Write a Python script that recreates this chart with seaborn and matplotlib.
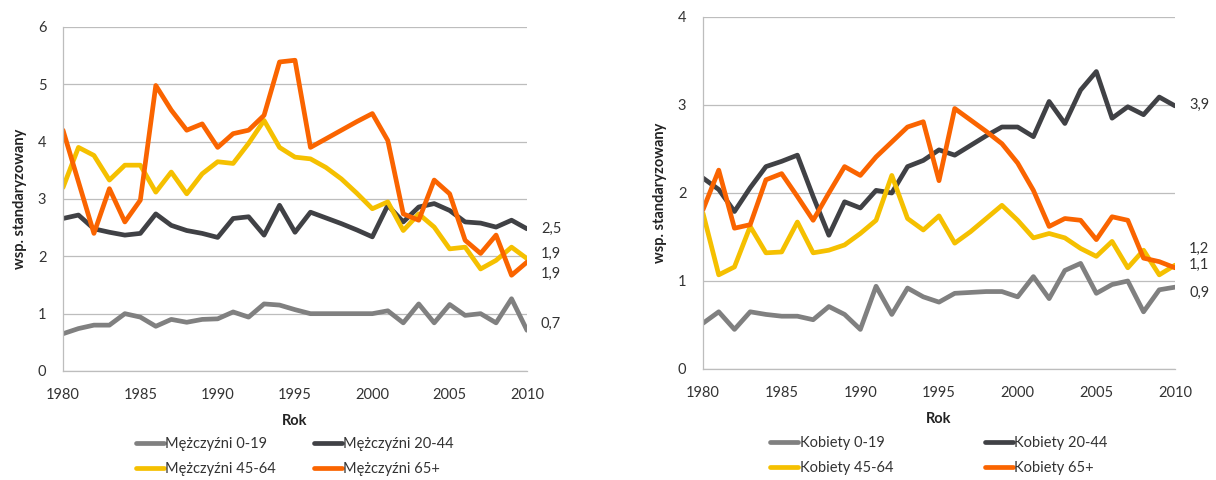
import numpy as np
import pandas as pd
import matplotlib
matplotlib.use("Agg")
import matplotlib.pyplot as plt
import seaborn as sns

years = list(range(1980, 2011))

men_0_19 = [0.65, 0.74, 0.80, 0.80, 1.00, 0.94, 0.78, 0.90, 0.85, 0.90, 0.91, 1.03, 0.94, 1.17, 1.15, 1.07,
            1.00, 1.00, 1.00, 1.00, 1.00, 1.05, 0.84, 1.17, 0.84, 1.16, 0.97, 1.00, 0.84, 1.26, 0.71]
men_20_44 = [2.66, 2.72, 2.48, 2.42, 2.37, 2.40, 2.74, 2.54, 2.45, 2.40, 2.33, 2.66, 2.69, 2.37, 2.89, 2.42,
             2.77, 2.67, 2.57, 2.46, 2.34, 2.89, 2.60, 2.86, 2.92, 2.80, 2.60, 2.58, 2.51, 2.63, 2.48]
men_45_64 = [3.20, 3.90, 3.76, 3.33, 3.59, 3.59, 3.12, 3.47, 3.09, 3.44, 3.65, 3.62, 3.97, 4.37, 3.90, 3.73,
             3.70, 3.55, 3.35, 3.10, 2.83, 2.95, 2.45, 2.74, 2.51, 2.13, 2.16, 1.78, 1.93, 2.16, 1.96]
men_65 = [4.20, 3.30, 2.40, 3.18, 2.60, 2.98, 4.98, 4.55, 4.20, 4.31, 3.90, 4.14, 4.20, 4.46, 5.39, 5.42,
          3.90, 4.05, 4.20, 4.35, 4.49, 4.02, 2.74, 2.63, 3.33, 3.09, 2.28, 2.05, 2.37, 1.67, 1.90]

women_0_19 = [0.52, 0.65, 0.45, 0.65, 0.62, 0.60, 0.60, 0.56, 0.71, 0.62, 0.45, 0.94, 0.62, 0.92, 0.82, 0.76,
              0.86, 0.87, 0.88, 0.88, 0.82, 1.05, 0.80, 1.12, 1.20, 0.86, 0.96, 1.00, 0.65, 0.90, 0.93]
women_20_44 = [2.17, 2.04, 1.79, 2.06, 2.30, 2.36, 2.43, 1.96, 1.52, 1.90, 1.83, 2.03, 2.00, 2.30, 2.37, 2.49,
               2.43, 2.54, 2.65, 2.75, 2.75, 2.64, 3.04, 2.79, 3.17, 3.38, 2.85, 2.98, 2.89, 3.09, 2.99]
women_45_64 = [1.77, 1.07, 1.16, 1.62, 1.32, 1.33, 1.67, 1.32, 1.35, 1.41, 1.54, 1.69, 2.20, 1.71, 1.58, 1.74,
               1.43, 1.56, 1.71, 1.86, 1.69, 1.49, 1.54, 1.49, 1.37, 1.28, 1.45, 1.15, 1.35, 1.07, 1.18]
women_65 = [1.81, 2.26, 1.60, 1.64, 2.15, 2.22, 1.96, 1.69, 2.00, 2.30, 2.20, 2.41, 2.58, 2.75, 2.81, 2.14,
            2.96, 2.83, 2.70, 2.56, 2.34, 2.03, 1.62, 1.71, 1.69, 1.47, 1.73, 1.69, 1.26, 1.22, 1.15]

men_labels = ["Mężczyźni 0-19", "Mężczyźni 20-44", "Mężczyźni 45-64", "Mężczyźni 65+"]
women_labels = ["Kobiety 0-19", "Kobiety 20-44", "Kobiety 45-64", "Kobiety 65+"]
men_end = ["0,7", "2,5", "1,9", "1,9"]
men_end_y = [0.82, 2.48, 2.04, 1.70]
women_end = ["0,9", "3,9", "1,2", "1,1"]
women_end_y = [0.86, 3.0, 1.37, 1.18]

colors = ["#808080", "#404145", "#f5c000", "#fa6400"]

sns.set_style("white")
plt.rcParams['font.family'] = ['Lato', 'DejaVu Sans']


def long_df(series_list, labels):
    frames = []
    for vals, lab in zip(series_list, labels):
        frames.append(pd.DataFrame({"Rok": years, "val": vals, "grupa": lab}))
    return pd.concat(frames, ignore_index=True)


df_m = long_df([men_0_19, men_20_44, men_45_64, men_65], men_labels)
df_w = long_df([women_0_19, women_20_44, women_45_64, women_65], women_labels)

fig = plt.figure(figsize=(12.16, 4.8), dpi=100)
ax1 = fig.add_axes([63 / 1216, 1 - 371 / 480, 464 / 1216, 344 / 480])
ax2 = fig.add_axes([703 / 1216, 1 - 369 / 480, 472 / 1216, 352 / 480])


def style(ax, df, labels, ymax, ends, end_y, colspace, anchor_y):
    sns.lineplot(data=df, x="Rok", y="val", hue="grupa", hue_order=labels,
                 palette=colors, linewidth=3.4, ax=ax, legend=True)
    ax.set_xlim(1980, 2010)
    ax.set_ylim(0, ymax)
    ax.set_xticks(range(1980, 2011, 5))
    ax.set_yticks(range(0, ymax + 1))
    ax.yaxis.grid(True, color="#bdbdbd", linewidth=0.9)
    ax.set_axisbelow(True)
    for s in ["top", "right"]:
        ax.spines[s].set_visible(False)
    for s in ["left", "bottom"]:
        ax.spines[s].set_color("#bdbdbd")
        ax.spines[s].set_linewidth(0.9)
    ax.tick_params(axis="both", labelsize=10.5, colors="#333333", length=3, color="#bdbdbd")
    ax.tick_params(axis="x", pad=9)
    ax.tick_params(axis="y", pad=9)
    ax.set_xlabel("Rok", fontsize=10.5, fontweight="bold", color="#222222", labelpad=9)
    ax.set_ylabel("wsp. standaryzowany", fontsize=10.5, fontweight="bold", color="#222222", labelpad=8)
    for t, yv in zip(ends, end_y):
        ax.text(2010.9, yv, t, fontsize=10.5, color="#333333", va="center", ha="left", clip_on=False)
    ax.get_legend().remove()
    handles = [plt.Line2D([0], [0], color=c, linewidth=3.4) for c in colors]
    order = [0, 2, 1, 3]
    ax.legend([handles[i] for i in order], [labels[i] for i in order],
              loc="upper center", bbox_to_anchor=(0.5, anchor_y), ncol=2,
              frameon=False, fontsize=10.5, handlelength=1.9, handletextpad=0.1,
              columnspacing=colspace, labelspacing=0.75, labelcolor="#333333",
              borderaxespad=0.0)


style(ax1, df_m, men_labels, 6, men_end, men_end_y, 2.6, -0.175)
style(ax2, df_w, women_labels, 4, women_end, women_end_y, 6.3, -0.175)

fig.savefig("out.png", dpi=100)
